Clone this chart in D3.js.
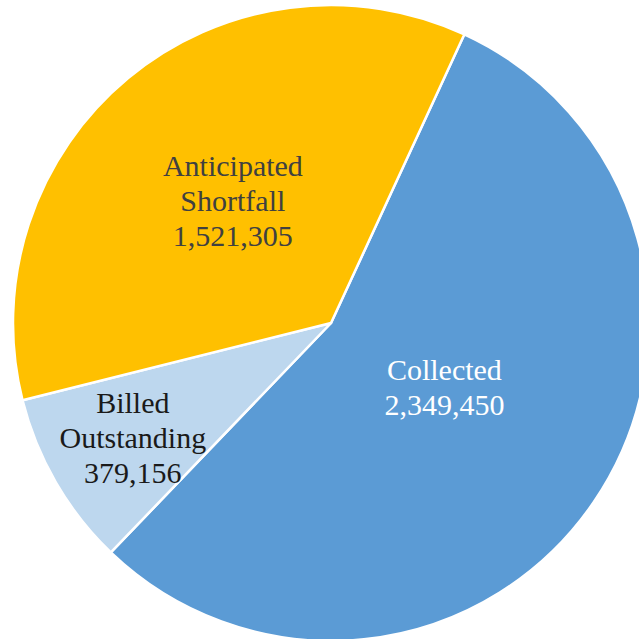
<!DOCTYPE html>
<html>
<head>
<meta charset="utf-8">
<script src="https://cdn.jsdelivr.net/npm/d3@7"></script>
<style>
  body { margin: 0; background: #fff; overflow: hidden; }
  svg { display: block; }
</style>
</head>
<body>
<svg width="639" height="639"></svg>
<script>
// slice data
const categories = ["Collected", "Billed Outstanding", "Anticipated Shortfall"];
const values = [2349450, 379156, 1521305];
const labelLines = [["Collected"], ["Billed", "Outstanding"], ["Anticipated", "Shortfall"]];
const colors = ["#5b9bd5", "#bdd7ee", "#ffc000"];
const textColors = ["#ffffff", "#1a1a1a", "#404040"];

const svg = d3.select("svg");
const cx = 331, cy = 323, radius = 318;

// first slice starts a little past 12 o'clock
const startAngle = 24.8 * Math.PI / 180;

const pie = d3.pie()
  .sort(null)
  .startAngle(startAngle)
  .endAngle(startAngle + 2 * Math.PI)
  .value(d => d.value);

const data = categories.map((c, i) => ({ name: c, value: values[i], i: i }));
const arcs = pie(data);

const arc = d3.arc().innerRadius(0).outerRadius(radius);

const g = svg.append("g").attr("transform", `translate(${cx},${cy})`);

g.selectAll("path")
  .data(arcs)
  .enter()
  .append("path")
  .attr("d", arc)
  .attr("fill", d => colors[d.data.i])
  .attr("stroke", "#fff")
  .attr("stroke-width", 2.5)
  .attr("stroke-linejoin", "round");

// label distance from centre, per slice, plus a small nudge
const labelRadius = [130, 228, 157];
const labelNudge = [[6, -9], [-1, 0], [2, -2]];
const fmt = d3.format(",");
const lineH = 35;

arcs.forEach(a => {
  const i = a.data.i;
  const la = d3.arc().innerRadius(labelRadius[i]).outerRadius(labelRadius[i]);
  let [x, y] = la.centroid(a);
  x += labelNudge[i][0];
  y += labelNudge[i][1];
  const lines = labelLines[i].concat([fmt(a.data.value)]);
  const t = g.append("text")
    .attr("text-anchor", "middle")
    .attr("font-family", "'Liberation Serif', 'DejaVu Serif', serif")
    .attr("font-size", 30)
    .attr("fill", textColors[i]);
  lines.forEach((l, k) => {
    t.append("tspan")
      .attr("x", x)
      .attr("y", y + (k - (lines.length - 1) / 2) * lineH)
      .attr("dy", "0.35em")
      .text(l);
  });
});
</script>
</body>
</html>
